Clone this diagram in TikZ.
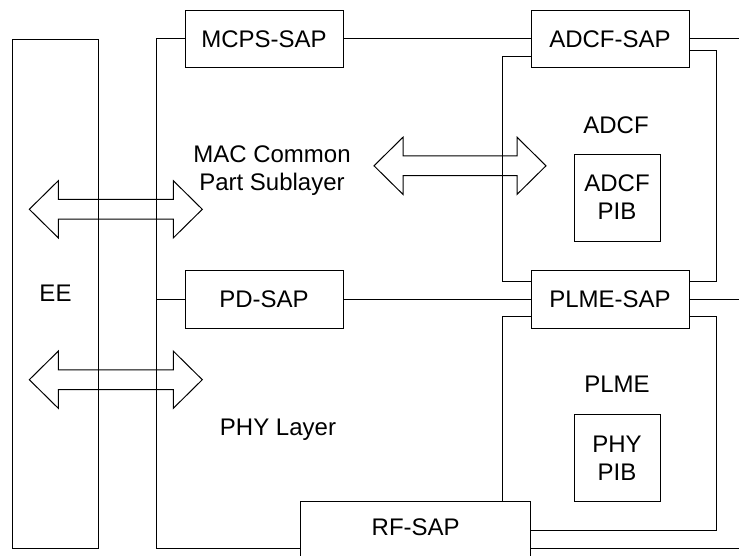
\documentclass[tikz,border=0pt]{standalone}
\usepackage{fontspec}
\setmainfont{Liberation Sans}
\newcommand\blockdblarrow[3]{%
  \draw[ln] (#1,#3) -- ({#1+29},{#3-28.6}) -- ({#1+29},{#3-9.9}) -- ({#2-29},{#3-9.9})
    -- ({#2-29},{#3-28.6}) -- (#2,#3) -- ({#2-29},{#3+28.6}) -- ({#2-29},{#3+9.9})
    -- ({#1+29},{#3+9.9}) -- ({#1+29},{#3+28.6}) -- cycle;}
\begin{document}
\begin{tikzpicture}[x=1pt,y=-1pt,
  every node/.style={font=\fontsize{24}{27.8}\selectfont, inner sep=0pt, align=center},
  box/.style={draw, line width=1pt},
  ln/.style={line width=1pt}]
\useasboundingbox (0,0) rectangle (739,555);
\clip (0,0) rectangle (739,555);
% boxes
\node[box, minimum width=85.6pt, minimum height=509pt] (ee) at (55.5,293.5) {EE};
\node[box, minimum width=158pt, minimum height=57.7pt] (mcps) at (264,38.9) {MCPS-SAP};
\node[box, minimum width=158pt, minimum height=57.7pt] (adcfsap) at (610,38.9) {ADCF-SAP};
\node[box, minimum width=158pt, minimum height=58.3pt] (pd) at (264,299.2) {PD-SAP};
\node[box, minimum width=158pt, minimum height=58.3pt] (plmesap) at (610,299.2) {PLME-SAP};
\node[box, minimum width=230pt, minimum height=92.6pt] (rf) at (415.7,548) {};
\node (rflabel) at (415.7,527.5) {RF-SAP};
\node[box, minimum width=86pt, minimum height=87pt] (adcfpib) at (617,197.5) {ADCF\\PIB};
\node[box, minimum width=86pt, minimum height=87.4pt] (phypib) at (617,458) {PHY\\PIB};
% labels
\node (adcf) at (616,125) {ADCF};
\node (plme) at (617,384) {PLME};
\node (mac) at (272,170.5) {MAC Common\\Part Sublayer};
\node (phy) at (278,430) {PHY Layer};
% coordinates
\coordinate (tl) at (156.7,38.9);
\coordinate (bl) at (156.7,548);
\coordinate (r1) at (739,38.9);
\coordinate (r2) at (739,299.2);
\coordinate (r3) at (739,548);
\coordinate (a1) at (502.3,56.7);
\coordinate (a2) at (502.3,281.7);
\coordinate (a3) at (716.7,50.7);
\coordinate (a4) at (716.7,281.7);
\coordinate (p1) at (502.3,316.7);
\coordinate (p3) at (716.7,316.7);
\coordinate (p4) at (716.7,530.3);
% connectors
\draw[ln] (mcps.west) -- (tl) -- (bl) -- (rf.west);
\draw[ln] (pd.west) -- (pd.west -| tl);
\draw[ln] (mcps.east) -- (adcfsap.west);
\draw[ln] (adcfsap.east) -- (r1);
\draw[ln] (pd.east) -- (plmesap.west);
\draw[ln] (plmesap.east) -- (r2);
\draw[ln] (rf.east) -- (r3);
\draw[ln] (adcfsap.west |- a1) -- (a1) -- (a2) -- (plmesap.west |- a2);
\draw[ln] (adcfsap.east |- a3) -- (a3) -- (a4) -- (plmesap.east |- a4);
\draw[ln] (plmesap.west |- p1) -- (p1) -- (p1 |- rf.north);
\draw[ln] (plmesap.east |- p3) -- (p3) -- (p4) -- (rf.east |- p4);
% block arrows
\blockdblarrow{29.3}{202.3}{209.3}
\blockdblarrow{29.3}{202.3}{379.7}
\blockdblarrow{374}{546}{165.8}
\end{tikzpicture}
\end{document}
